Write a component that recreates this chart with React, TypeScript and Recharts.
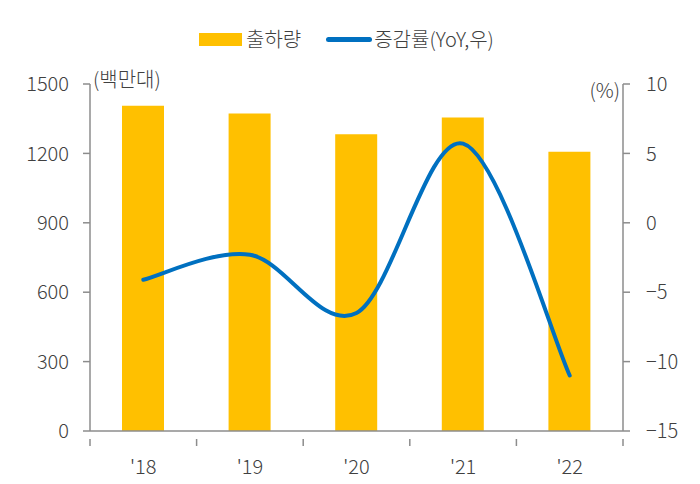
import React from "react"
import {
  ComposedChart,
  Bar,
  Line,
  XAxis,
  YAxis,
} from "recharts"

// chart values
const years = ["'18", "'19", "'20", "'21", "'22"]
const shipments = [1406, 1373, 1283, 1355, 1207] // 출하량 (백만대)
const yoyGrowth = [-4.1, -2.3, -6.5, 5.7, -11.0] // 증감률 (%)
const leftTicks = [0, 300, 600, 900, 1200, 1500]
const rightTicks = [-15, -10, -5, 0, 5, 10]

const W = 700
const H = 484
const MARGIN = { top: 84, right: 10, bottom: 0, left: 10 }
const LEFT_AXIS_W = 80
const RIGHT_AXIS_W = 67
const X_AXIS_H = 53

const FONT = "'Noto Sans CJK KR', 'Noto Sans', sans-serif"
const WEIGHT = 300
const TEXT = "#404040"
const AXIS = "#8c8c8c"
const BAR = "#FFC000"
const LINE = "#0070C0"

const data = years.map((year, i) => ({
  year,
  shipments: shipments[i],
  yoy: yoyGrowth[i],
}))

const plotWidth = W - MARGIN.left - MARGIN.right - LEFT_AXIS_W - RIGHT_AXIS_W
const band = plotWidth / years.length

// Excel-style smoothed line (Catmull-Rom through the points)
function excelCurve(context: any) {
  let pts: [number, number][] = []
  return {
    areaStart() {},
    areaEnd() {},
    lineStart() {
      pts = []
    },
    point(x: number, y: number) {
      pts.push([+x, +y])
    },
    lineEnd() {
      if (!pts.length) return
      context.moveTo(pts[0][0], pts[0][1])
      for (let i = 0; i < pts.length - 1; i++) {
        const p0 = pts[i - 1] || pts[i]
        const p1 = pts[i]
        const p2 = pts[i + 1]
        const p3 = pts[i + 2] || p2
        context.bezierCurveTo(
          p1[0] + (p2[0] - p0[0]) / 6,
          p1[1] + (p2[1] - p0[1]) / 6,
          p2[0] - (p3[0] - p1[0]) / 6,
          p2[1] - (p3[1] - p1[1]) / 6,
          p2[0],
          p2[1]
        )
      }
    },
  }
}

function YearTick(props: any) {
  const { x, y, payload, index } = props
  const last = index === years.length - 1
  return (
    <g>
      <line x1={x - band / 2} x2={x - band / 2} y1={y} y2={y + 7} stroke={AXIS} strokeWidth={1.5} />
      {last && (
        <line x1={x + band / 2} x2={x + band / 2} y1={y} y2={y + 7} stroke={AXIS} strokeWidth={1.5} />
      )}
      <text
        x={x}
        y={y + 26}
        textAnchor="middle"
        dominantBaseline="central"
        fill={TEXT}
        fontSize={20}
        fontWeight={WEIGHT}
        fontFamily={FONT}
      >
        {payload.value}
      </text>
    </g>
  )
}

const minus = (v: number) => String(v).replace("-", "\u2212")

function Legend() {
  return (
    <div
      style={{
        position: "absolute",
        top: 26,
        left: 199,
        display: "flex",
        alignItems: "center",
        fontFamily: FONT,
        fontWeight: WEIGHT,
        fontSize: 20,
        color: TEXT,
        lineHeight: "26px",
        whiteSpace: "nowrap",
      }}
    >
      <span style={{ width: 43, height: 13, background: BAR, marginRight: 4 }} />
      <span>출하량</span>
      <span
        style={{
          width: 46,
          height: 5,
          borderRadius: 3,
          background: LINE,
          marginLeft: 25,
          marginRight: 2,
        }}
      />
      <span>증감률(YoY,우)</span>
    </div>
  )
}

export default function App() {
  return (
    <div style={{ position: "absolute", left: 0, top: 0, width: W, height: H, background: "#fff" }}>
      <Legend />
      <ComposedChart width={W} height={H} data={data} margin={MARGIN}>
        <XAxis
          dataKey="year"
          height={X_AXIS_H}
          tick={<YearTick />}
          tickLine={false}
          axisLine={{ stroke: AXIS, strokeWidth: 1.5 }}
          interval={0}
        />
        <YAxis
          yAxisId="left"
          width={LEFT_AXIS_W}
          domain={[0, 1500]}
          ticks={leftTicks}
          interval={0}
          tickSize={7}
          tickMargin={14}
          tick={{ fill: TEXT, fontSize: 20, fontWeight: WEIGHT, fontFamily: FONT }}
          tickLine={{ stroke: AXIS, strokeWidth: 1.5 }}
          axisLine={{ stroke: AXIS, strokeWidth: 1.5 }}
          label={{
            content: ({ viewBox }: any) => (
              <text
                x={viewBox.x + viewBox.width + 3}
                y={viewBox.y - 6}
                dominantBaseline="central"
                fill={TEXT}
                fontSize={20}
                fontWeight={WEIGHT}
                fontFamily={FONT}
              >
                (백만대)
              </text>
            ),
          }}
        />
        <YAxis
          yAxisId="right"
          orientation="right"
          width={RIGHT_AXIS_W}
          domain={[-15, 10]}
          ticks={rightTicks}
          interval={0}
          tickSize={7}
          tickMargin={16}
          tickFormatter={minus}
          tick={{ fill: TEXT, fontSize: 20, fontWeight: WEIGHT, fontFamily: FONT, textAnchor: "start" }}
          tickLine={{ stroke: AXIS, strokeWidth: 1.5 }}
          axisLine={{ stroke: AXIS, strokeWidth: 1.5 }}
          label={{
            content: ({ viewBox }: any) => (
              <text
                x={viewBox.x - 3}
                y={viewBox.y + 5}
                textAnchor="end"
                dominantBaseline="central"
                fill={TEXT}
                fontSize={20}
                fontWeight={WEIGHT}
                fontFamily={FONT}
              >
                (%)
              </text>
            ),
          }}
        />
        <Bar
          yAxisId="left"
          dataKey="shipments"
          name="출하량"
          fill={BAR}
          barSize={42}
          isAnimationActive={false}
        />
        <Line
          yAxisId="right"
          dataKey="yoy"
          name="증감률(YoY,우)"
          type={excelCurve as any}
          stroke={LINE}
          strokeWidth={4}
          strokeLinecap="round"
          dot={false}
          activeDot={false}
          isAnimationActive={false}
        />
      </ComposedChart>
    </div>
  )
}
